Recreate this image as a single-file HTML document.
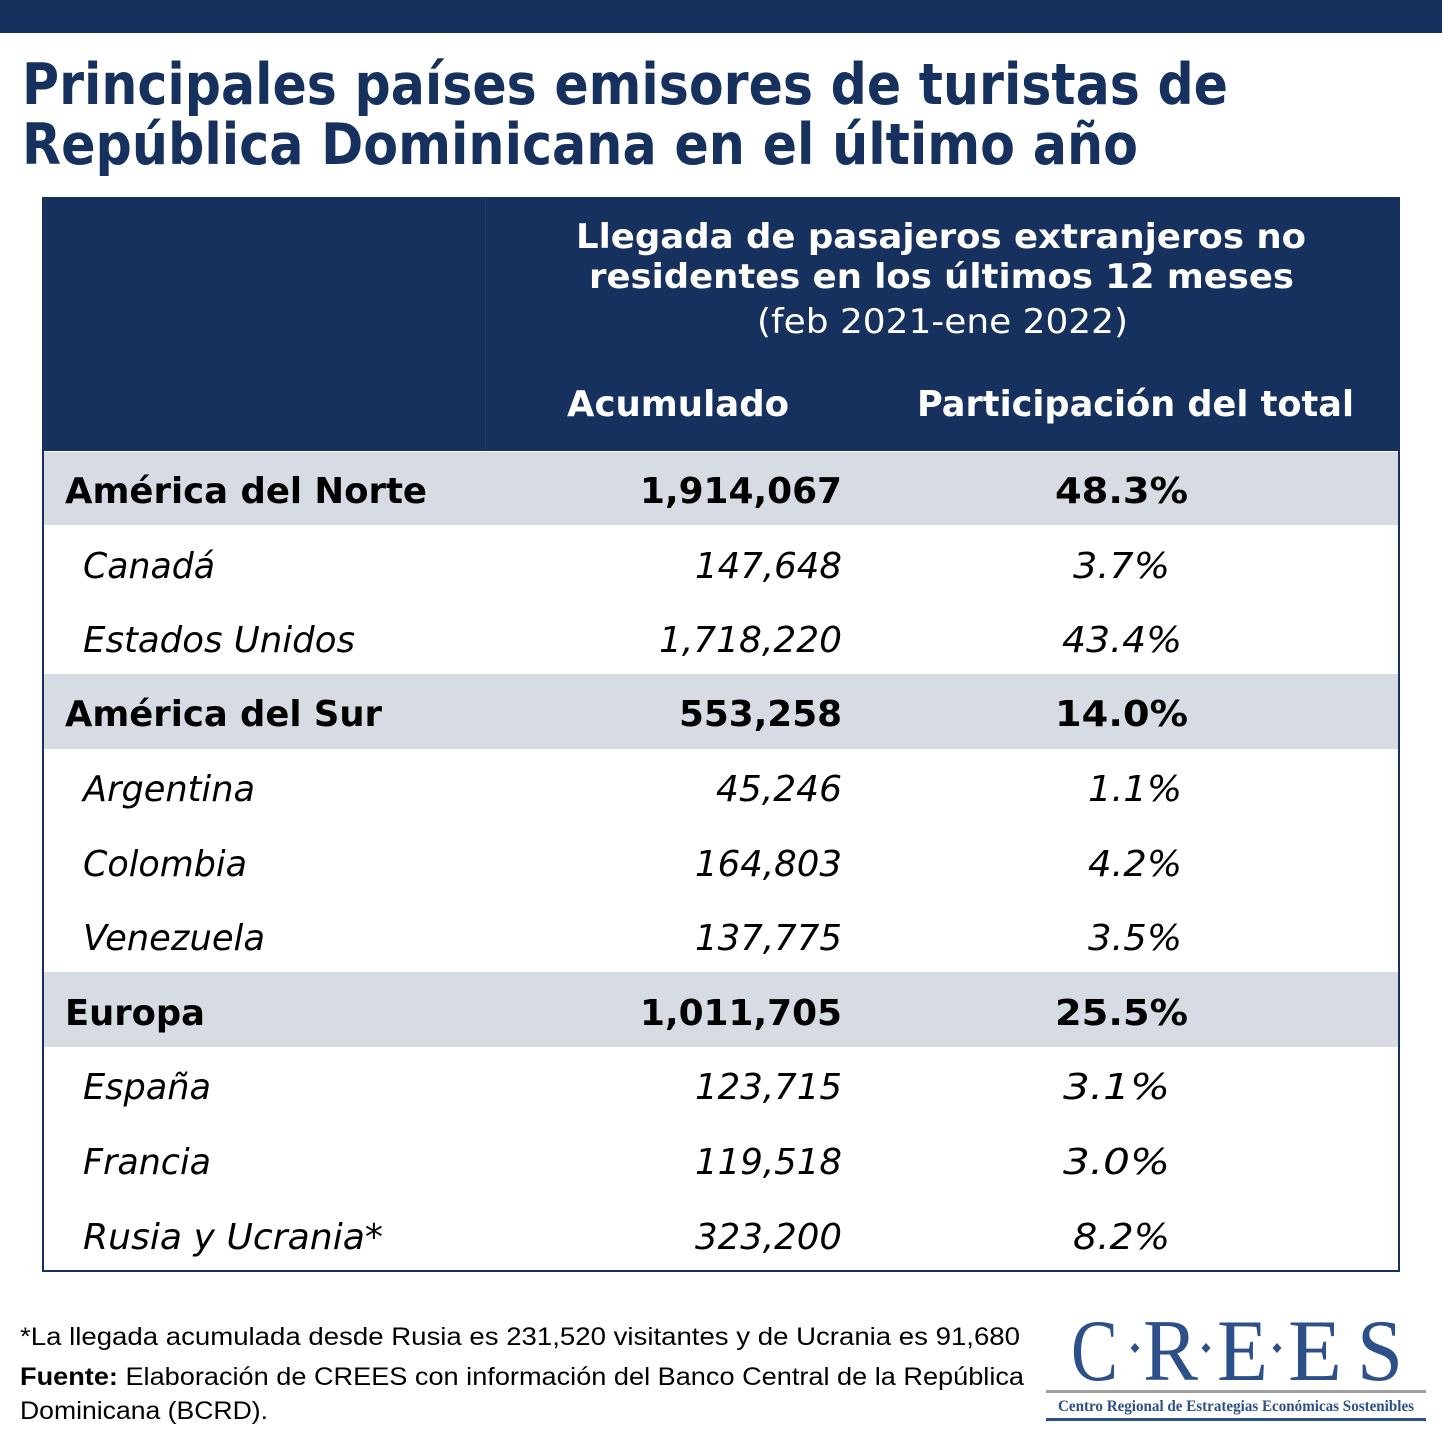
<!DOCTYPE html>
<html>
<head>
<meta charset="utf-8">
<style>
html,body{margin:0;padding:0;background:#fff;}
svg{display:block;}
</style>
</head>
<body>
<svg width="1442" height="1442" viewBox="0 0 1442 1442" xmlns="http://www.w3.org/2000/svg">
<rect x="0" y="0" width="1442" height="1442" fill="#ffffff"/>
<!-- top bar -->
<rect x="0" y="0" width="1442" height="33" fill="#17315e"/>
<!-- title -->
<g font-family="'DejaVu Sans','Liberation Sans',sans-serif" font-weight="bold" font-size="57" fill="#17315e">
<text x="22" y="104" textLength="1206" lengthAdjust="spacingAndGlyphs">Principales países emisores de turistas de</text>
<text x="22" y="164" textLength="1116" lengthAdjust="spacingAndGlyphs">República Dominicana en el último año</text>
</g>
<!-- table header -->
<rect x="42" y="198" width="1358" height="253" fill="#17315e"/>
<line x1="42" y1="198.5" x2="1400" y2="198.5" stroke="#4a5f85" stroke-width="1"/>
<line x1="485.5" y1="198" x2="485.5" y2="451" stroke="#1f3a66" stroke-width="1"/>
<g font-family="'DejaVu Sans','Liberation Sans',sans-serif" fill="#ffffff" font-size="34">
<text x="576" y="248" font-weight="bold" textLength="730" lengthAdjust="spacingAndGlyphs">Llegada de pasajeros extranjeros no</text>
<text x="589" y="288" font-weight="bold" textLength="705" lengthAdjust="spacingAndGlyphs">residentes en los últimos 12 meses</text>
<text x="757" y="333" textLength="371" lengthAdjust="spacingAndGlyphs">(feb 2021-ene 2022)</text>
<text x="567" y="416" font-weight="bold" font-size="36" textLength="222" lengthAdjust="spacingAndGlyphs">Acumulado</text>
<text x="917" y="416" font-weight="bold" font-size="36" textLength="437" lengthAdjust="spacingAndGlyphs">Participación del total</text>
</g>
<!-- grey bands -->
<rect x="43" y="452" width="1356" height="73" fill="#d6dbe4"/>
<rect x="43" y="674" width="1356" height="75" fill="#d6dbe4"/>
<rect x="43" y="972" width="1356" height="75" fill="#d6dbe4"/>
<!-- table border -->
<rect x="43" y="198" width="1356" height="1073" fill="none" stroke="#17315e" stroke-width="2"/>
<!-- rows -->
<g font-family="'DejaVu Sans','Liberation Sans',sans-serif" fill="#000000">
<g font-weight="bold" font-size="36">
<text x="65" y="503" textLength="362" lengthAdjust="spacingAndGlyphs">América del Norte</text>
<text x="640" y="503" textLength="202" lengthAdjust="spacingAndGlyphs">1,914,067</text>
<text x="1055" y="503" textLength="133" lengthAdjust="spacingAndGlyphs">48.3%</text>
<text x="65" y="726" textLength="317" lengthAdjust="spacingAndGlyphs">América del Sur</text>
<text x="679" y="726" textLength="163" lengthAdjust="spacingAndGlyphs">553,258</text>
<text x="1055" y="726" textLength="133" lengthAdjust="spacingAndGlyphs">14.0%</text>
<text x="65" y="1025" textLength="140" lengthAdjust="spacingAndGlyphs">Europa</text>
<text x="640" y="1025" textLength="202" lengthAdjust="spacingAndGlyphs">1,011,705</text>
<text x="1055" y="1025" textLength="133" lengthAdjust="spacingAndGlyphs">25.5%</text>
</g>
<g font-style="italic" font-size="36">
<text x="83" y="578" textLength="132" lengthAdjust="spacingAndGlyphs">Canadá</text>
<text x="695" y="578" textLength="147" lengthAdjust="spacingAndGlyphs">147,648</text>
<text x="1073" y="578" textLength="97" lengthAdjust="spacingAndGlyphs">3.7%</text>

<text x="83" y="652" textLength="272" lengthAdjust="spacingAndGlyphs">Estados Unidos</text>
<text x="659" y="652" textLength="183" lengthAdjust="spacingAndGlyphs">1,718,220</text>
<text x="1062" y="652" textLength="120" lengthAdjust="spacingAndGlyphs">43.4%</text>

<text x="83" y="801" textLength="172" lengthAdjust="spacingAndGlyphs">Argentina</text>
<text x="716" y="801" textLength="126" lengthAdjust="spacingAndGlyphs">45,246</text>
<text x="1088" y="801" textLength="94" lengthAdjust="spacingAndGlyphs">1.1%</text>

<text x="83" y="876" textLength="164" lengthAdjust="spacingAndGlyphs">Colombia</text>
<text x="695" y="876" textLength="147" lengthAdjust="spacingAndGlyphs">164,803</text>
<text x="1088" y="876" textLength="94" lengthAdjust="spacingAndGlyphs">4.2%</text>

<text x="83" y="950" textLength="182" lengthAdjust="spacingAndGlyphs">Venezuela</text>
<text x="695" y="950" textLength="147" lengthAdjust="spacingAndGlyphs">137,775</text>
<text x="1088" y="950" textLength="94" lengthAdjust="spacingAndGlyphs">3.5%</text>

<text x="83" y="1099" textLength="128" lengthAdjust="spacingAndGlyphs">España</text>
<text x="695" y="1099" textLength="147" lengthAdjust="spacingAndGlyphs">123,715</text>
<text x="1063" y="1099" textLength="107" lengthAdjust="spacingAndGlyphs">3.1%</text>

<text x="83" y="1174" textLength="128" lengthAdjust="spacingAndGlyphs">Francia</text>
<text x="695" y="1174" textLength="147" lengthAdjust="spacingAndGlyphs">119,518</text>
<text x="1063" y="1174" textLength="107" lengthAdjust="spacingAndGlyphs">3.0%</text>

<text x="83" y="1249" textLength="300" lengthAdjust="spacingAndGlyphs">Rusia y Ucrania*</text>
<text x="695" y="1249" textLength="147" lengthAdjust="spacingAndGlyphs">323,200</text>
<text x="1073" y="1249" textLength="97" lengthAdjust="spacingAndGlyphs">8.2%</text>
</g>
</g>
<!-- footer -->
<g font-family="'Liberation Sans',sans-serif" font-size="25" fill="#000000">
<text x="20" y="1345" textLength="1000" lengthAdjust="spacingAndGlyphs">*La llegada acumulada desde Rusia es 231,520 visitantes y de Ucrania es  91,680</text>
<text x="20" y="1385" textLength="1004" lengthAdjust="spacingAndGlyphs"><tspan font-weight="bold">Fuente:</tspan> Elaboración de CREES con información del Banco Central de la República</text>
<text x="20" y="1419" textLength="248" lengthAdjust="spacingAndGlyphs">Dominicana (BCRD).</text>
</g>
<!-- logo -->
<g font-family="'Liberation Serif',serif" font-size="88" fill="#2e5088">
<text x="1071" y="1380" textLength="47" lengthAdjust="spacingAndGlyphs">C</text>
<text x="1143" y="1380" textLength="55" lengthAdjust="spacingAndGlyphs">R</text>
<text x="1217" y="1380" textLength="51" lengthAdjust="spacingAndGlyphs">E</text>
<text x="1288" y="1380" textLength="54" lengthAdjust="spacingAndGlyphs">E</text>
<text x="1357" y="1380" textLength="46" lengthAdjust="spacingAndGlyphs">S</text>
</g>
<g fill="#2e5088">
<polygon points="1135,1343 1139.5,1348 1135,1353 1130.5,1348"/>
<polygon points="1206,1343 1210.5,1348 1206,1353 1201.5,1348"/>
<polygon points="1277,1343 1281.5,1348 1277,1353 1272.5,1348"/>
</g>
<rect x="1046" y="1390" width="380" height="3" fill="#a0a0a0"/>
<text x="1058" y="1411" font-family="'Liberation Serif',serif" font-weight="bold" font-size="16" fill="#2e5088" textLength="356" lengthAdjust="spacingAndGlyphs">Centro Regional de Estrategias Económicas Sostenibles</text>
<rect x="1046" y="1418" width="380" height="3" fill="#2e5088"/>
</svg>
</body>
</html>
